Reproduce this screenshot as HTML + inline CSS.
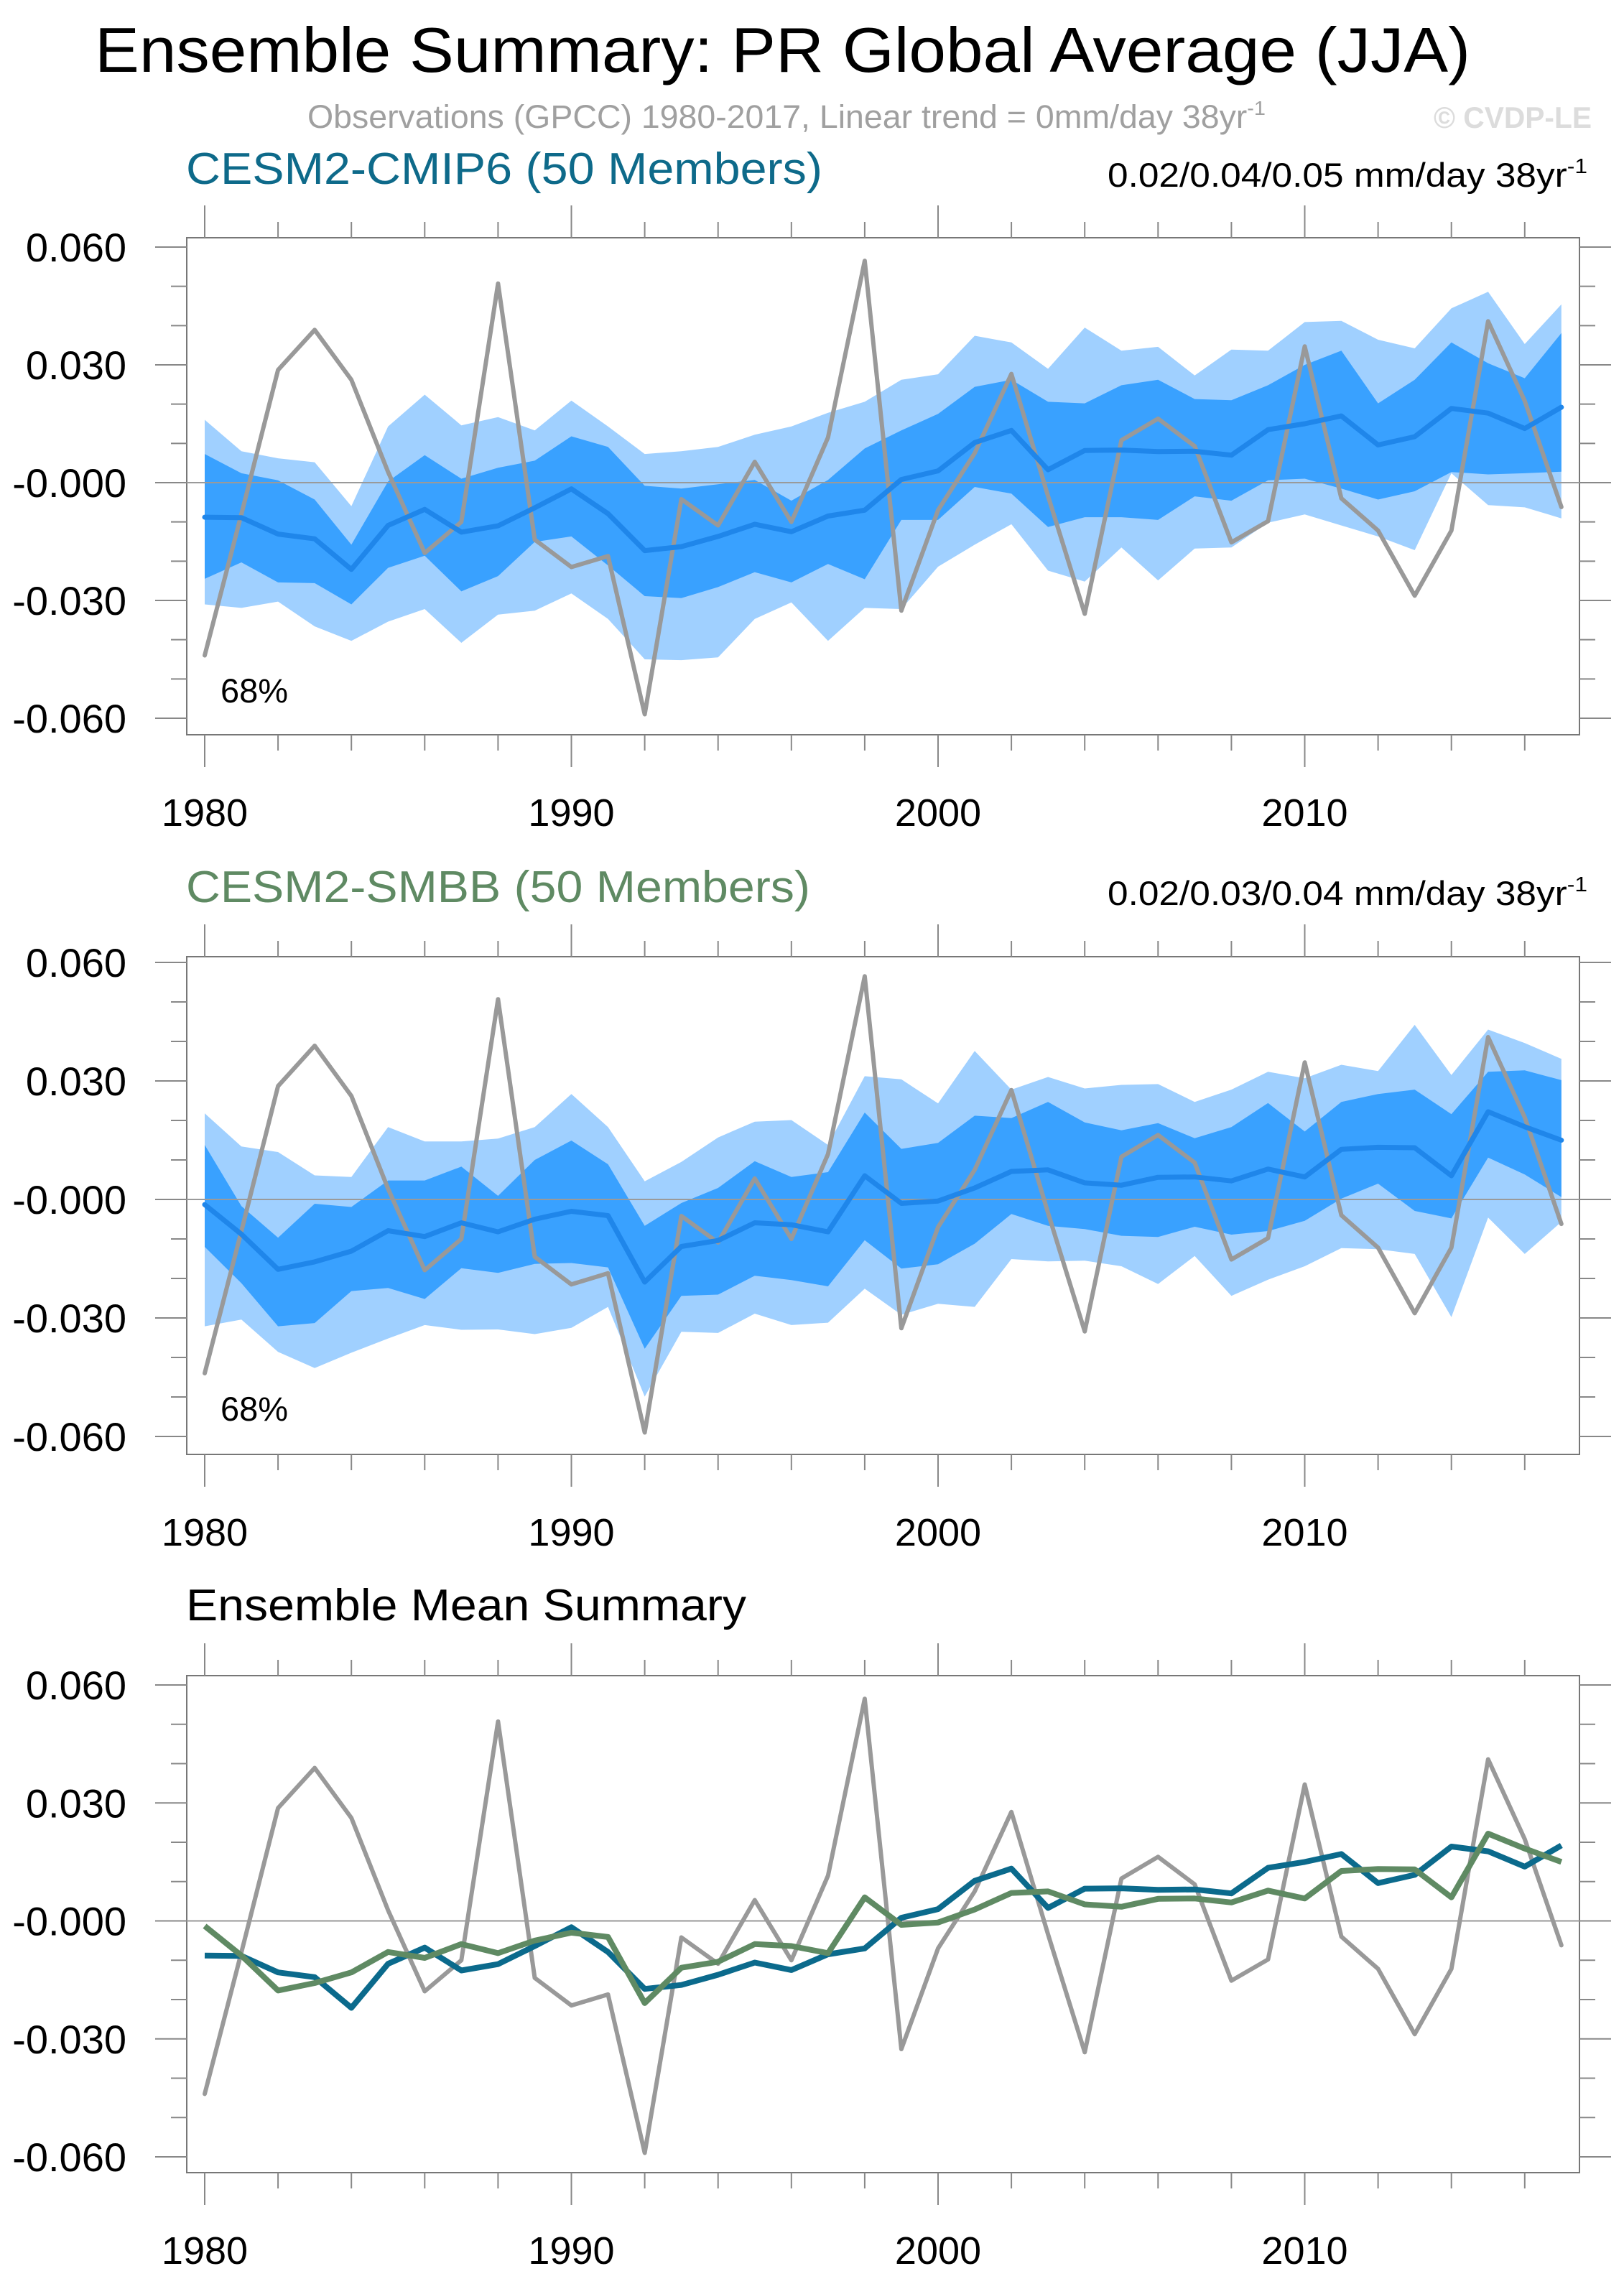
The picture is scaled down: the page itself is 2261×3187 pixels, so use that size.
<!DOCTYPE html>
<html><head><meta charset="utf-8"><style>
html,body{margin:0;padding:0;background:#fff;}
svg{display:block;font-family:"Liberation Sans",sans-serif;}
</style></head><body>
<svg id="chart" width="2261" height="3187" viewBox="0 0 2261 3187" xmlns="http://www.w3.org/2000/svg">
<text x="132" y="100" font-size="88" textLength="1915" lengthAdjust="spacingAndGlyphs" fill="#000">Ensemble Summary: PR Global Average (JJA)</text>
<text x="428" y="178" font-size="45" textLength="1334" lengthAdjust="spacingAndGlyphs" fill="#a0a0a0">Observations (GPCC) 1980-2017, Linear trend = 0mm/day 38yr<tspan font-size="28" dy="-18">-1</tspan></text>
<text x="1996" y="178" font-size="42" font-weight="bold" textLength="220" lengthAdjust="spacingAndGlyphs" fill="#dcdcdc">© CVDP-LE</text>
<g id="p0"></g><g id="p1"></g><g id="p2"></g>
</svg>
<script>
const years = [];
for (let y = 1980; y <= 2017; y++) years.push(y);
const yTickValues = [0.06, 0.03, 0, -0.03, -0.06];
const yTickLabels = ["0.060", "0.030", "-0.000", "-0.030", "-0.060"];
const xTickYears = [1980, 1990, 2000, 2010];
const obs = [-44,-8,28.7,38.9,26.2,2.7,-17.9,-10,50.7,-14.5,-21.5,-18.7,-59,-4.2,-10.9,5.3,-10,11.5,56.5,-32.6,-7,7.5,27.7,-3.4,-33.4,10.8,16.3,9.3,-15.2,-9.8,34.7,-4,-12.2,-28.8,-12.2,41.1,20.8,-6.2];
const cmipMean = [-8.8,-8.9,-13.1,-14.3,-22.1,-10.9,-6.8,-12.6,-11,-6.4,-1.6,-7.9,-17.3,-16.3,-13.7,-10.6,-12.5,-8.5,-7,0.8,3,10.2,13.3,3.3,8.2,8.3,7.9,8,7,13.5,15,17,9.6,11.7,18.9,17.7,13.8,19.2];
const smbbMean = [-1.3,-8.8,-17.7,-15.8,-13.1,-7.9,-9.4,-5.9,-8.2,-5,-3,-4.1,-20.9,-11.9,-10.4,-5.9,-6.4,-8.2,6,-1,-0.4,2.9,7.1,7.5,4.2,3.6,5.6,5.7,4.7,7.7,5.7,12.7,13.2,13.1,6,22.2,18.4,15];
const cmipLightHi = [16,8,6.2,5.2,-6,14.3,22.4,14.6,16.7,13.3,20.9,14.3,7.3,8,9.1,12.2,14.3,17.8,20.6,26.2,27.6,37.4,35.7,29,39.5,33.6,34.6,27.3,33.9,33.6,40.9,41.2,36.4,34.2,44.4,48.6,35.3,45.4];
const cmipDarkHi = [7.3,2.4,0.6,-4.3,-15.8,0.3,7,1,3.8,5.6,11.8,9.1,-0.8,-1.5,-0.4,0.7,-4.6,0.7,8.7,13.3,17.5,24.4,26.2,20.6,20.2,24.8,26.2,21.3,21,24.8,30,33.6,20.2,26.2,35.7,30.4,26.6,38.1];
const cmipDarkLo = [-24.5,-20.3,-25.4,-25.6,-31,-21.7,-18.6,-27.7,-23.8,-15.1,-13.7,-21.1,-28.9,-29.4,-26.6,-22.8,-25.4,-20.7,-24.6,-9.5,-9.5,-1.1,-2.8,-11.3,-8.8,-8.8,-9.5,-3.5,-4.6,0.6,1,-1.5,-4.3,-2.2,2.7,2.1,2.4,2.8];
const cmipLightLo = [-31,-31.9,-30.3,-36.6,-40.3,-35.4,-32.2,-40.8,-33.6,-32.6,-28.2,-34.7,-45,-45.2,-44.5,-34.7,-30.5,-40.3,-31.9,-32.2,-21.4,-15.8,-10.6,-22.4,-25.2,-16.5,-24.9,-16.8,-16.5,-10.2,-8.1,-10.9,-13.7,-17.2,2.4,-5.7,-6.3,-9.1];
const smbbLightHi = [21.8,13.4,12,6.1,5.7,18.3,14.7,14.7,15.4,18.3,26.7,18.3,4.6,9.5,15.7,19.7,20.1,13.8,31.2,30.4,24.3,37.6,27.8,31,28.1,29,29.2,24.7,27.8,32.3,30.7,34.1,32.5,44.2,31.5,43,39.6,35.6];
const smbbDarkHi = [13.8,-1.7,-9.7,-1.1,-1.9,4.8,4.8,8.3,0.9,10,14.9,8.9,-6.7,-0.9,2.9,9.7,5.7,6.9,22,12.8,14.3,21.2,20.6,24.7,19.5,17.5,19.3,15.5,18.3,24.4,17.2,24.7,26.7,27.8,21.6,32.3,32.7,30.2];
const smbbDarkLo = [-12,-21.2,-32.1,-31.3,-23.2,-22.4,-25.2,-17.4,-18.6,-16.3,-16.1,-17.2,-37.8,-24.4,-24.1,-19.3,-20.4,-22,-10.3,-17.5,-16.4,-11.2,-3.7,-6.7,-7.5,-9.2,-9.5,-6.9,-8.9,-8,-5.4,0.2,4,-2.9,-4.8,10.6,6.3,0.6];
const smbbLightLo = [-32.1,-30.4,-38.6,-42.7,-38.8,-35.2,-31.8,-33,-32.9,-34.1,-32.5,-27.2,-49.9,-33.5,-33.8,-28.9,-31.8,-31.2,-22.6,-29.2,-26.4,-27.2,-15.1,-15.7,-15.5,-16.9,-21.4,-14.3,-24.4,-20.3,-16.9,-12.3,-12.6,-13.8,-29.8,-4.6,-13.8,-5.7];

const NS = "http://www.w3.org/2000/svg";
const FL = 260, FR = 2199;
// per-panel frame geometry: frame top, bottom, pixel of +0.06 and -0.06
const panels = [
  {top:331, bot:1023, y06:344, yn06:1000},
  {top:1332, bot:2025, y06:1340, yn06:2000},
  {top:2333, bot:3025, y06:2346, yn06:3003}
];
function xs(yr){ return 285 + (yr - 1980) * 51.05; }
function ys(v, P){ return P.y06 + (0.06 - v) / 0.12 * (P.yn06 - P.y06); }
function mk(parent, tag, attrs){
  const e = document.createElementNS(NS, tag);
  for (const k in attrs) e.setAttribute(k, attrs[k]);
  parent.appendChild(e); return e;
}
function linePts(arr, P){ return arr.map((v,i)=>xs(years[i]).toFixed(1)+","+ys(v/1000,P).toFixed(1)).join(" "); }
function bandPts(hi, lo, P){
  const a = hi.map((v,i)=>xs(years[i]).toFixed(1)+","+ys(v/1000,P).toFixed(1));
  const b = lo.map((v,i)=>xs(years[i]).toFixed(1)+","+ys(v/1000,P).toFixed(1)).reverse();
  return a.concat(b).join(" ");
}
function drawAxes(g, P){
  const top = P.top, bot = P.bot;
  const fr = mk(g, "rect", {x:FL, y:top, width:FR-FL, height:bot-top, fill:"none", stroke:"#777", "stroke-width":2});
  
  
  const z = mk(g, "line", {x1:FL, x2:FR, y1:ys(0,P), y2:ys(0,P), stroke:"#9a9a9a", "stroke-width":2});
  
  
  years.forEach(yr=>{
    if (yr % 2 !== 0) return;
    const maj = xTickYears.indexOf(yr) >= 0;
    const L = maj ? 45 : 22;
    const t1 = mk(g, "line", {x1:xs(yr), x2:xs(yr), y1:top-L, y2:top, stroke:"#888", "stroke-width":2});
    
    
    const t2 = mk(g, "line", {x1:xs(yr), x2:xs(yr), y1:bot, y2:bot+L, stroke:"#888", "stroke-width":2});
    
    
  });
  xTickYears.forEach(yr=>{
    const t = mk(g, "text", {x:xs(yr), y:bot+127, "font-size":54, "text-anchor":"middle", fill:"#000"});
    t.textContent = yr;
    
    
  });
  for (let vv = -60; vv <= 60; vv += 10) {
    const maj = vv % 30 === 0;
    const L = maj ? 44 : 22;
    const yy = ys(vv/1000, P);
    const a = mk(g, "line", {x1:FL-L, x2:FL, y1:yy, y2:yy, stroke:"#888", "stroke-width":2});
    
    
    const b = mk(g, "line", {x1:FR, x2:FR+L, y1:yy, y2:yy, stroke:"#888", "stroke-width":2});
    
    
  }
  yTickValues.forEach((v,i)=>{
    const t = mk(g, "text", {x:176, y:ys(v,P)+20, "font-size":56, "text-anchor":"end", fill:"#000"});
    t.textContent = yTickLabels[i];
    
    
  });
}
function drawPlot(idx, title, titleColor, titleLen, trend, lightHi, darkHi, darkLo, lightLo, mean){
  const g = document.getElementById("p"+idx);
  const P = panels[idx];
  const off = 1000*idx;
  const tt = mk(g, "text", {x:259, y:256+off, "font-size":62, fill:titleColor, textLength:titleLen, lengthAdjust:"spacingAndGlyphs"});
  tt.textContent = title;
  
  
  if (trend) {
    const tr = mk(g, "text", {x:1542, y:260+off, "font-size":47, fill:"#000", textLength:668, lengthAdjust:"spacingAndGlyphs"});
    tr.textContent = trend;
    const sup = mk(tr, "tspan", {"font-size":29, dy:-19}); sup.textContent = "-1";
    
    
  }
  if (lightHi) {
    const lb = mk(g, "polygon", {points:bandPts(lightHi, lightLo, P), fill:"#a0d0ff"});
    
    
    const db = mk(g, "polygon", {points:bandPts(darkHi, darkLo, P), fill:"#39a1ff"});
    
    
  }
  drawAxes(g, P);
  const ob = mk(g, "polyline", {points:linePts(obs, P), fill:"none", stroke:"#999", "stroke-width":6, "stroke-linejoin":"round", "stroke-linecap":"round"});
  
  
  if (lightHi) {
    const ml = mk(g, "polyline", {points:linePts(mean, P), fill:"none", stroke:"#1f86ea", "stroke-width":7, "stroke-linejoin":"round", "stroke-linecap":"round"});
    
    
    const p = mk(g, "text", {x:307, y:978+off, "font-size":47, fill:"#000"});
    p.textContent = "68%";
    
    
  } else {
    const c = mk(g, "polyline", {points:linePts(cmipMean, P), fill:"none", stroke:"#0b6a8c", "stroke-width":8, "stroke-linejoin":"round"});
    
    
    const s = mk(g, "polyline", {points:linePts(smbbMean, P), fill:"none", stroke:"#5f8a63", "stroke-width":8, "stroke-linejoin":"round"});
    
    
  }
}
drawPlot(0, "CESM2-CMIP6 (50 Members)", "#0e6a8a", 886, "0.02/0.04/0.05 mm/day 38yr", cmipLightHi, cmipDarkHi, cmipDarkLo, cmipLightLo, cmipMean);
drawPlot(1, "CESM2-SMBB (50 Members)", "#5f8a63", 869, "0.02/0.03/0.04 mm/day 38yr", smbbLightHi, smbbDarkHi, smbbDarkLo, smbbLightLo, smbbMean);
drawPlot(2, "Ensemble Mean Summary", "#000", 780, null);
</script>
</body></html>
